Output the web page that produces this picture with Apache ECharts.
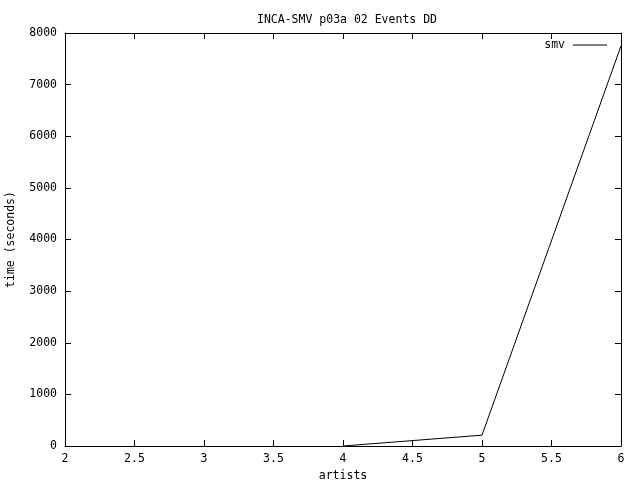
<!DOCTYPE html>
<html><head><meta charset="utf-8">
<script src="https://cdn.jsdelivr.net/npm/echarts@6/dist/echarts.min.js"></script>
<style>html,body{margin:0;padding:0;background:#fff}#c{width:640px;height:480px}</style>
</head><body><div id="c"></div>
<script>
const titleText = "INCA-SMV p03a 02 Events DD";
const xName = "artists";
const yName = "time (seconds)";
const seriesName = "smv";
const artists = [4, 5, 6];
const times = [0, 210, 7750];
const xMin = 2, xMax = 6, xStep = 0.5;
const yMin = 0, yMax = 8000, yStep = 1000;

const font = "DejaVu Sans Mono";
const fs = 11.5;
const chart = echarts.init(document.getElementById('c'), null, {renderer: 'canvas'});
const axisCommon = {
  axisLine: {show: true, onZero: false, lineStyle: {color: '#000', width: 1}},
  axisTick: {show: true, inside: true, length: 6, lineStyle: {color: '#000'}},
  splitLine: {show: false},
};
chart.setOption({
  animation: false,
  backgroundColor: '#fff',
  textStyle: {fontFamily: font, color: '#000'},
  title: {text: titleText, left: 252, top: 9, textStyle: {fontFamily: font, fontSize: fs, fontWeight: 'normal', color: '#000'}},
  legend: {right: 33, top: 39, padding: 0, align: 'right', icon: 'rect', itemWidth: 34, itemHeight: 1, itemGap: 0,
    textStyle: {fontFamily: font, fontSize: fs, color: '#000', padding: [0, 3, 0, 0]},
    data: [seriesName]},
  grid: {left: 65, right: 19, top: 33, bottom: 34, containLabel: false, outerBoundsMode: 'none'},
  xAxis: [
    Object.assign({type: 'value', min: xMin, max: xMax, interval: xStep, position: 'bottom',
      name: xName, nameLocation: 'middle', nameGap: 22,
      nameTextStyle: {fontFamily: font, fontSize: fs, color: '#000'},
      axisLabel: {fontFamily: font, fontSize: fs, color: '#000', margin: 7}}, axisCommon),
    Object.assign({type: 'value', min: xMin, max: xMax, interval: xStep, position: 'top',
      axisLabel: {show: false}}, axisCommon)
  ],
  yAxis: [
    Object.assign({type: 'value', min: yMin, max: yMax, interval: yStep, position: 'left',
      name: yName, nameLocation: 'middle', nameGap: 48, nameRotate: 90,
      nameTextStyle: {fontFamily: font, fontSize: fs, color: '#000'},
      axisLabel: {fontFamily: font, fontSize: fs, color: '#000', margin: 8, formatter: v => String(v)}}, axisCommon),
    Object.assign({type: 'value', min: yMin, max: yMax, interval: yStep, position: 'right',
      axisLabel: {show: false}}, axisCommon)
  ],
  series: [{
    name: seriesName, type: 'line', xAxisIndex: 0, yAxisIndex: 0,
    data: artists.map((a, i) => [a, times[i]]),
    showSymbol: false, symbol: 'none',
    lineStyle: {color: '#000', width: 1}, itemStyle: {color: '#000'}
  }]
});
</script></body></html>
